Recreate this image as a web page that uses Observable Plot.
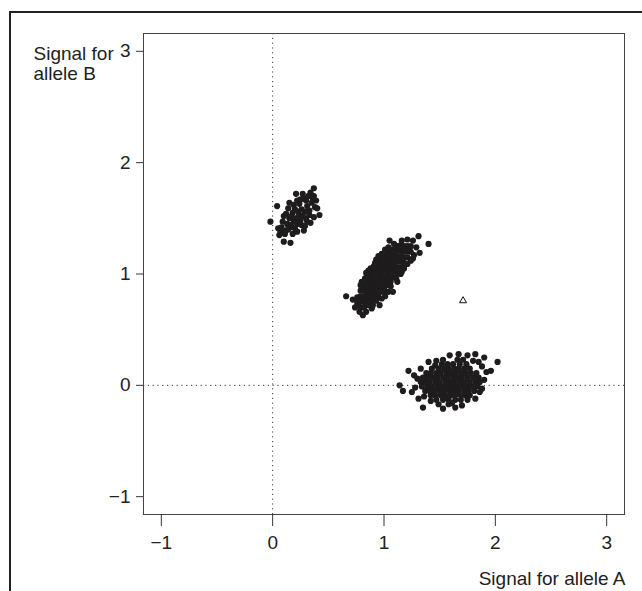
<!DOCTYPE html>
<html>
<head>
<meta charset="utf-8">
<script src="https://cdn.jsdelivr.net/npm/d3@7"></script>
<script src="https://cdn.jsdelivr.net/npm/@observablehq/plot@0.6"></script>
<style>
  html, body { margin: 0; padding: 0; background: #fff; }
  #wrap { position: relative; width: 642px; height: 591px; overflow: hidden; }
  #border { position: absolute; left: 9px; top: 11px; width: 640px; height: 600px;
            border-top: 2px solid #222; border-left: 2px solid #222; }
  #chart { position: absolute; left: 0; top: 0; }
</style>
</head>
<body>
<div id="wrap"><div id="border"></div><div id="chart"></div></div>
<script>
// Tick values
const xTicks = [-1, 0, 1, 2, 3];
const yTicks = [-1, 0, 1, 2, 3];
const xLabel = "Signal for allele A";
const yLabel = "Signal for\nallele B";

// Cluster BB (high allele B signal)
const clusterBB = [
  [-0.02,1.47],[0.04,1.61],[0.37,1.77],[0.21,1.72],[0.34,1.73],[0.37,1.70],[0.42,1.53],[0.10,1.29],
  [0.16,1.28],[0.06,1.35],[0.05,1.41],[0.12,1.39],[0.22,1.38],[0.28,1.39],[0.37,1.51],[0.10,1.52],
  [0.14,1.59],[0.23,1.56],[0.28,1.68],[0.31,1.61],[0.38,1.60],[0.19,1.47],[0.25,1.48],[0.31,1.47],
  [0.17,1.42],[0.15,1.50],[0.18,1.55],[0.21,1.50],[0.24,1.53],[0.20,1.58],[0.26,1.58],[0.13,1.45],
  [0.16,1.44],[0.22,1.45],[0.27,1.52],[0.29,1.56],[0.33,1.57],[0.35,1.64],[0.24,1.63],[0.19,1.62],
  [0.12,1.54],[0.09,1.47],[0.14,1.40],[0.20,1.41],[0.26,1.44],[0.30,1.50],[0.33,1.53],[0.36,1.68],
  [0.30,1.66],[0.25,1.67],[0.22,1.66],[0.17,1.52],[0.08,1.42],[0.11,1.36],[0.07,1.38],[0.32,1.70],
  [0.27,1.72],[0.40,1.59],[0.34,1.46],[0.23,1.51],[0.18,1.36],[0.29,1.43],[0.39,1.66],[0.15,1.64]
];

// Cluster AB (heterozygous)
const clusterAB = [
  [0.76,0.74],[0.76,0.79],
  [0.79,0.70],[0.79,0.75],[0.79,0.80],[0.79,0.85],
  [0.82,0.70],[0.82,0.75],[0.82,0.80],[0.82,0.85],[0.82,0.90],
  [0.85,0.72],[0.85,0.77],[0.85,0.82],[0.85,0.87],[0.85,0.92],[0.85,0.97],
  [0.88,0.75],[0.88,0.80],[0.88,0.85],[0.88,0.90],[0.88,0.95],[0.88,1.00],
  [0.91,0.78],[0.91,0.83],[0.91,0.88],[0.91,0.93],[0.91,0.98],[0.91,1.03],[0.91,1.07],
  [0.94,0.81],[0.94,0.86],[0.94,0.91],[0.94,0.96],[0.94,1.01],[0.94,1.06],[0.94,1.10],
  [0.97,0.84],[0.97,0.89],[0.97,0.94],[0.97,0.99],[0.97,1.04],[0.97,1.09],[0.97,1.13],
  [1.00,0.87],[1.00,0.92],[1.00,0.97],[1.00,1.02],[1.00,1.07],[1.00,1.12],[1.00,1.16],
  [1.03,0.90],[1.03,0.95],[1.03,1.00],[1.03,1.05],[1.03,1.10],[1.03,1.15],[1.03,1.19],
  [1.06,0.93],[1.06,0.98],[1.06,1.03],[1.06,1.08],[1.06,1.13],[1.06,1.18],[1.06,1.22],
  [1.09,0.97],[1.09,1.02],[1.09,1.07],[1.09,1.12],[1.09,1.17],[1.09,1.22],
  [1.12,1.01],[1.12,1.06],[1.12,1.11],[1.12,1.16],[1.12,1.21],[1.12,1.25],
  [1.15,1.06],[1.15,1.11],[1.15,1.16],[1.15,1.21],[1.15,1.26],
  [1.18,1.10],[1.18,1.15],[1.18,1.20],[1.18,1.25],
  [1.21,1.15],[1.21,1.20],[1.21,1.25],
  [1.24,1.20],[1.24,1.25],
  [0.66,0.80],[0.74,0.70],[0.81,0.63],[0.84,0.66],[0.89,0.69],[0.96,0.72],[0.93,0.76],[1.04,0.84],
  [1.08,0.84],[1.01,0.80],[1.12,0.93],[0.80,0.93],[0.86,1.03],[0.92,1.10],[1.05,1.30],[1.16,1.30],
  [1.21,1.31],[1.31,1.34],[1.40,1.27],[1.32,1.19],[1.26,1.30],[1.27,1.17],[0.78,0.66],[0.83,0.96],
  [0.98,0.78],[1.15,1.00],[1.18,1.05],[0.95,1.16],[1.01,1.22],[1.24,1.12],[0.72,0.77],[1.29,1.24],
  [0.90,0.72],[0.95,0.79],[1.00,0.84],[1.06,0.89],[1.11,0.96],[1.16,1.02],[1.21,1.09],[1.26,1.14],
  [0.79,0.90],[0.84,1.01],[0.88,1.05],[0.93,1.13],[0.98,1.18],[1.04,1.24],[1.09,1.27]
];

// Cluster AA (high allele A signal)
const clusterAA = [
  [1.47,-0.13],[1.53,-0.13],[1.58,-0.13],[1.64,-0.13],[1.69,-0.13],
  [1.42,-0.09],[1.46,-0.09],[1.51,-0.09],[1.55,-0.09],[1.60,-0.09],[1.64,-0.09],[1.69,-0.09],[1.73,-0.09],[1.77,-0.09],
  [1.37,-0.05],[1.41,-0.05],[1.45,-0.05],[1.50,-0.05],[1.54,-0.05],[1.59,-0.05],[1.63,-0.05],[1.67,-0.05],[1.72,-0.05],[1.76,-0.05],[1.81,-0.05],
  [1.34,-0.01],[1.39,-0.01],[1.43,-0.01],[1.48,-0.01],[1.52,-0.01],[1.56,-0.01],[1.61,-0.01],[1.65,-0.01],[1.70,-0.01],[1.74,-0.01],[1.79,-0.01],[1.84,-0.01],
  [1.33,0.03],[1.37,0.03],[1.41,0.03],[1.46,0.03],[1.50,0.03],[1.55,0.03],[1.59,0.03],[1.63,0.03],[1.68,0.03],[1.72,0.03],[1.77,0.03],[1.82,0.03],[1.86,0.03],
  [1.35,0.07],[1.39,0.07],[1.44,0.07],[1.48,0.07],[1.53,0.07],[1.57,0.07],[1.62,0.07],[1.66,0.07],[1.70,0.07],[1.75,0.07],[1.80,0.07],[1.85,0.07],
  [1.38,0.11],[1.42,0.11],[1.47,0.11],[1.51,0.11],[1.56,0.11],[1.60,0.11],[1.64,0.11],[1.69,0.11],[1.73,0.11],[1.78,0.11],[1.83,0.11],
  [1.43,0.15],[1.49,0.15],[1.54,0.15],[1.58,0.15],[1.63,0.15],[1.67,0.15],[1.72,0.15],[1.77,0.15],
  [1.52,0.19],[1.57,0.19],[1.62,0.19],[1.68,0.19],[1.74,0.19],
  [1.40,0.21],[1.22,0.13],[1.14,0.00],[1.17,-0.05],[1.25,-0.06],[1.31,-0.12],[1.35,-0.20],[1.53,-0.21],
  [1.64,-0.20],[1.70,-0.18],[1.59,0.27],[1.67,0.28],[1.75,0.27],[1.82,0.28],[1.90,0.25],[1.96,0.13],
  [2.02,0.21],[1.88,-0.03],[1.82,-0.12],[1.53,0.23],[1.46,0.18],[1.30,0.06],[1.28,-0.02],[1.36,-0.10],
  [1.42,-0.14],[1.58,-0.17],[1.75,-0.13],[1.86,-0.06],[1.90,0.05],[1.92,0.12],[1.88,0.17],[1.47,0.22],
  [1.66,0.23],[1.80,0.22],[1.33,0.15],[1.27,0.09],[1.61,-0.16],[1.49,-0.17],[1.71,0.23],[1.85,0.21]
];

// Unclassified sample
const outlier = [[1.71, 0.76]];

const fmt = d => d < 0 ? "\u2212" + Math.abs(d) : String(d);
const dotStyle = {x: d => d[0], y: d => d[1], r: 3.1, fill: "#1e1c1c", stroke: "none"};

const chart = Plot.plot({
  width: 642,
  height: 591,
  marginLeft: 143,
  marginRight: 18,
  marginTop: 33,
  marginBottom: 77,
  x: {domain: [-1.16, 3.16]},
  y: {domain: [-1.16, 3.16]},
  style: {fontFamily: "'Liberation Sans', Arial, sans-serif", fontSize: "19px", color: "#222", background: "transparent"},
  marks: [
    Plot.ruleX([0], {stroke: "#333", strokeDasharray: "1.2,3.6"}),
    Plot.ruleY([0], {stroke: "#333", strokeDasharray: "1.2,3.6"}),
    Plot.frame({stroke: "#444"}),
    Plot.axisX({ticks: xTicks, tickSize: 12, tickPadding: 9, tickFormat: fmt, label: null, stroke: "#333"}),
    Plot.axisY({ticks: yTicks, tickSize: 7, tickPadding: 6, tickFormat: fmt, label: null, stroke: "#333"}),
    Plot.dot(clusterBB, dotStyle),
    Plot.dot(clusterAB, dotStyle),
    Plot.dot(clusterAA, dotStyle),
    Plot.dot(outlier, {x: d => d[0], y: d => d[1], symbol: "triangle", r: 2.6, fill: "white", stroke: "#111", strokeWidth: 1}),
    Plot.text([yLabel], {frameAnchor: "top-left", text: d => d, textAnchor: "start", lineAnchor: "top", dx: -110, dy: 12, lineHeight: 1.07, fill: "#222"}),
    Plot.text([xLabel], {frameAnchor: "bottom-right", text: d => d, textAnchor: "end", lineAnchor: "middle", dx: 1, dy: 64, fill: "#222"})
  ]
});
document.getElementById("chart").appendChild(chart);
</script>
</body>
</html>
